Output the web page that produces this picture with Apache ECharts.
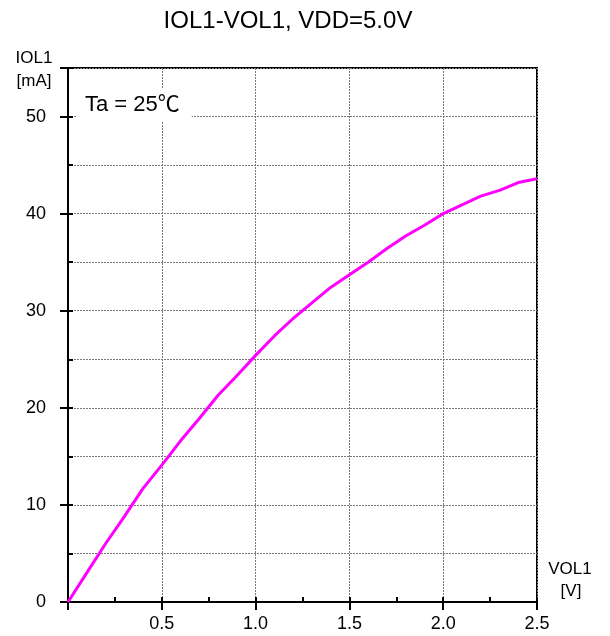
<!DOCTYPE html>
<html><head><meta charset="utf-8">
<script src="https://cdn.jsdelivr.net/npm/echarts@6/dist/echarts.min.js"></script>
<style>html,body{margin:0;padding:0;background:#fff}#c{width:610px;height:636px}</style>
</head><body><div id="c"></div>
<script>
const vol = [0,0.1,0.2,0.3,0.4,0.5,0.6,0.7,0.8,0.9,1.0,1.1,1.2,1.3,1.4,1.5,1.6,1.7,1.8,1.9,2.0,2.1,2.2,2.3,2.4,2.5];
const iol = [0,3.0,6.0,8.8,11.7,14.1,16.6,18.9,21.3,23.3,25.4,27.4,29.2,30.8,32.4,33.7,35.0,36.4,37.7,38.8,40.0,40.9,41.8,42.4,43.2,43.6];
const titleText = 'IOL1-VOL1, VDD=5.0V';
const xName = ['VOL1','[V]'];
const yName = ['IOL1','[mA]'];
const note = 'Ta = 25\u2103';
const FONT = '"Liberation Sans","Noto Sans CJK KR",sans-serif';
const chart = echarts.init(document.getElementById('c'));
const gridLine = {show:true, lineStyle:{color:'#7a7a7a', width:1, type:[2,1]}};
function txt(s, x, y, size){
  return {type:'text', z:100, x:x, y:y, style:{text:s, font:size+'px '+FONT, fill:'#000', textAlign:'center', textVerticalAlign:'middle', verticalAlign:'middle'}};
}
chart.setOption({
  animation:false,
  grid:{left:68, right:73, top:68, bottom:34, show:true, borderColor:'#000', borderWidth:2, backgroundColor:'transparent'},
  xAxis:[
    {type:'value', min:0, max:2.5, interval:0.5, position:'bottom',
     axisLine:{show:true, lineStyle:{color:'#000', width:2}},
     axisTick:{show:true, inside:false, length:8, lineStyle:{color:'#000', width:2}},
     axisLabel:{margin:13, fontFamily:FONT, fontSize:18, color:'#000', formatter:v=>v===0?'':v.toFixed(1)},
     splitLine:gridLine},
    {type:'value', min:0, max:2.5, interval:0.25, position:'bottom',
     axisLine:{show:false}, axisLabel:{show:false}, splitLine:{show:false},
     axisTick:{show:true, inside:true, length:5, lineStyle:{color:'#000', width:2}}}
  ],
  yAxis:[
    {type:'value', min:0, max:55, interval:10, position:'left',
     axisLine:{show:true, lineStyle:{color:'#000', width:2}},
     axisTick:{show:true, inside:false, length:8, lineStyle:{color:'#000', width:2}},
     axisLabel:{margin:22, fontFamily:FONT, fontSize:18, color:'#000', formatter:v=>v>50?'':String(v)},
     splitLine:{show:false}},
    {type:'value', min:0, max:55, interval:5, position:'left',
     axisLine:{show:false}, axisLabel:{show:false},
     splitLine:gridLine,
     axisTick:{show:true, inside:true, length:5, lineStyle:{color:'#000', width:2}}}
  ],
  graphic:[
    txt(titleText, 288, 21, 24),
    {type:'text', z:100, x:77, y:105, style:{text:note, font:'22px '+FONT, fill:'#000', textVerticalAlign:'middle', verticalAlign:'middle', backgroundColor:'#fff', padding:[5,12,5,8]}},
    txt(yName[0], 34, 58, 17),
    txt(yName[1], 34, 81, 17),
    txt(xName[0], 570, 569, 17),
    txt(xName[1], 571, 591, 17)
  ],
  series:[{type:'line', xAxisIndex:0, yAxisIndex:0, data:vol.map((v,i)=>[v,iol[i]]), showSymbol:false, symbol:'none',
    lineStyle:{color:'#ff00ff', width:3}, z:10}]
});
</script></body></html>
